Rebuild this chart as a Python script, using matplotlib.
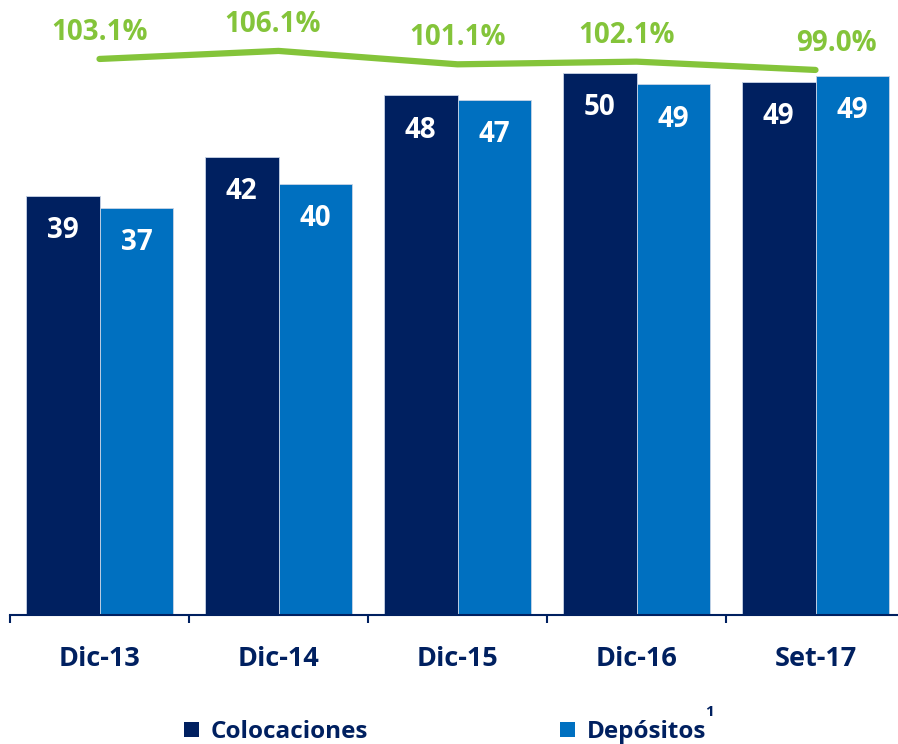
import matplotlib
matplotlib.use('Agg')
import matplotlib.pyplot as plt
from matplotlib.patches import Patch

categories = ['Dic-13', 'Dic-14', 'Dic-15', 'Dic-16', 'Set-17']
colocaciones = [38.6, 42.2, 47.9, 50.0, 49.1]
depositos = [37.5, 39.7, 47.5, 48.9, 49.7]
colocaciones_labels = ['39', '42', '48', '50', '49']
depositos_labels = ['37', '40', '47', '49', '49']
ratio = [103.1, 106.1, 101.1, 102.1, 99.0]
ratio_labels = ['103.1%', '106.1%', '101.1%', '102.1%', '99.0%']

navy = '#002060'
blue = '#0070C0'
green = '#84C43A'

plt.rcParams['font.family'] = ['Open Sans', 'DejaVu Sans']
plt.rcParams['font.weight'] = 'bold'

fig = plt.figure(figsize=(8.98, 7.44), dpi=100)
ax = fig.add_axes([10 / 898, 129 / 744, 895 / 898, 615 / 744])

x = list(range(len(categories)))
w = 0.413
bars1 = ax.bar([i - w / 2 for i in x], colocaciones, w, color=navy, edgecolor='#c8d4e6', linewidth=0.6)
bars2 = ax.bar([i + w / 2 for i in x], depositos, w, color=blue, edgecolor='#c8d4e6', linewidth=0.6)

for bars, labels in [(bars1, colocaciones_labels), (bars2, depositos_labels)]:
    for b, lab in zip(bars, labels):
        ax.annotate(lab, (b.get_x() + b.get_width() / 2, b.get_height()), xytext=(0, -25),
                    textcoords='offset points', ha='center', va='center',
                    color='white', fontsize=20, fontweight='bold')

ax.set_xlim(-0.5, 4.5)
ax.set_ylim(0, 615 / 10.85)
ax.set_yticks([])
for s in ['top', 'right', 'left']:
    ax.spines[s].set_visible(False)
ax.spines['bottom'].set_color(navy)
ax.spines['bottom'].set_linewidth(1.5)

# tick marks between the groups, labels centred below each group
ax.set_xticks([i - 0.5 for i in range(len(categories) + 1)])
ax.set_xticklabels([])
ax.tick_params(axis='x', direction='out', length=6, width=1.5, color=navy)
for i, c in enumerate(categories):
    ax.annotate(c, (i, 0), xytext=(0, -32), textcoords='offset points', ha='center', va='center',
                color=navy, fontsize=19.5, fontweight='bold', annotation_clip=False)

# ratio line on its own scale
ax2 = ax.twinx()
ax2.set_ylim(125.1 - 615 / 2.68, 125.1)
ax2.axis('off')
ax2.plot(x, ratio, color=green, linewidth=4.5, solid_capstyle='round', solid_joinstyle='round')
label_dx = [0, -4, 0, -7, 15]
for i, (r, lab) in enumerate(zip(ratio, ratio_labels)):
    ax2.annotate(lab, (i, r), xytext=(label_dx[i], 19), textcoords='offset points', ha='center',
                 va='center', color=green, fontsize=20, fontweight='bold', annotation_clip=False)

handles = [Patch(facecolor=navy, label='Colocaciones'), Patch(facecolor=blue, label='Depósitos')]
fig.legend(handles=handles, loc='center', bbox_to_anchor=(0.496, 0.016), ncol=2, frameon=False,
           fontsize=17.5, handlelength=0.6, handleheight=0.6, handletextpad=0.5, columnspacing=7.9,
           labelcolor=navy)
fig.text(710 / 898, 1 - 712 / 744, '1', color=navy, fontsize=11, fontweight='bold', ha='center', va='center')

fig.savefig('out.png', dpi=100)
